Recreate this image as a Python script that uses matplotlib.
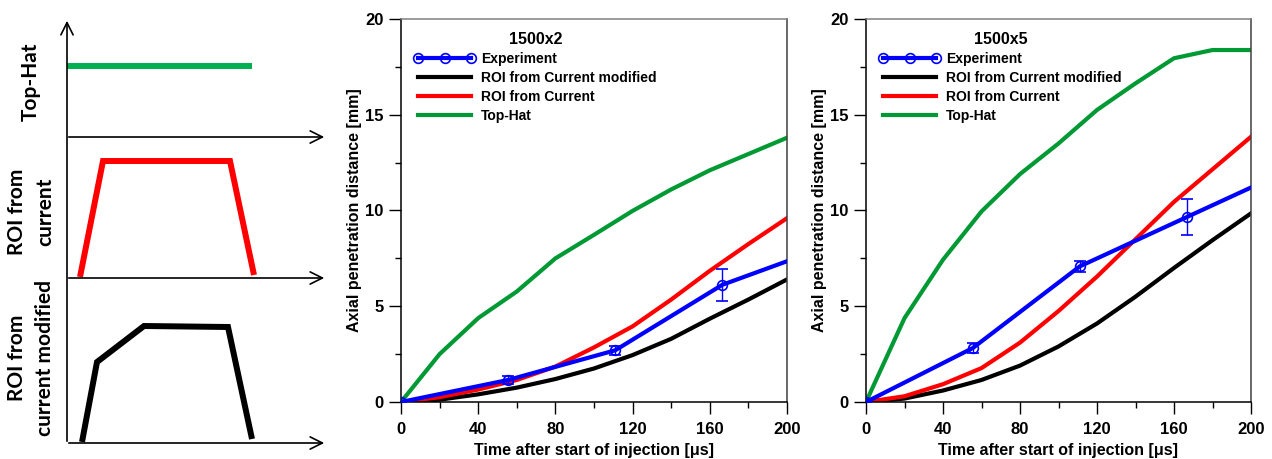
import matplotlib
matplotlib.use("Agg")
import matplotlib.pyplot as plt
from matplotlib.lines import Line2D

plt.rcParams['font.family'] = ['Liberation Sans', 'DejaVu Sans']
plt.rcParams['font.weight'] = 'bold'

# ---- data ----
t_sim = [0, 20, 40, 60, 80, 100, 120, 140, 160, 180, 200]

# 1500x2
tophat_2 = [0, 2.5, 4.38, 5.77, 7.5, 8.73, 9.98, 11.1, 12.1, 12.95, 13.8]
roi_2 = [0, 0.25, 0.65, 1.15, 1.85, 2.85, 3.95, 5.35, 6.85, 8.25, 9.6]
roimod_2 = [0, 0.12, 0.4, 0.75, 1.2, 1.75, 2.45, 3.3, 4.35, 5.35, 6.4]
t_exp = [0, 55.5, 111, 166.5]
exp_2 = [0, 1.15, 2.7, 6.12]
err_2 = [0, 0.23, 0.22, 0.82]
exp_end_2 = 7.35

# 1500x5
tophat_5 = [0, 4.38, 7.43, 9.95, 11.9, 13.5, 15.25, 16.64, 17.95, 18.38, 18.38]
roi_5 = [0, 0.3, 0.93, 1.77, 3.1, 4.75, 6.55, 8.5, 10.45, 12.15, 13.85]
roimod_5 = [0, 0.18, 0.6, 1.15, 1.9, 2.9, 4.1, 5.5, 7.0, 8.45, 9.85]
exp_5 = [0, 2.82, 7.08, 9.65]
err_5 = [0, 0.25, 0.3, 0.94]
exp_end_5 = 11.2

# schematic profiles (x from origin, height above baseline)
tophat_x, tophat_h = [0, 185], [71, 71]
roi_x, roi_h = [13, 36, 163, 187], [1, 117, 117, 3]
roimod_x, roimod_h = [15, 30, 77, 161, 185], [1, 81, 117, 116, 4]

BLUE = '#0000FF'
GREEN = '#009933'
RED = '#FF0000'

fig = plt.figure(figsize=(12.72, 4.59), dpi=100)
W, H = 1272, 459

# ---- schematic ----
ax0 = fig.add_axes([0, 0, 340 / W, 1])
ax0.set_xlim(0, 340)
ax0.set_ylim(459, 0)
ax0.axis('off')
x0 = 67
baselines = [137, 278, 443]
arrow = dict(arrowstyle='->', color='black', lw=1.2, mutation_scale=22)
ax0.annotate('', xy=(x0, 18), xytext=(x0, 444), arrowprops=arrow)
for b in baselines:
    ax0.annotate('', xy=(327, b), xytext=(x0 - 1, b), arrowprops=arrow)
profiles = [(tophat_x, tophat_h, '#00B050'), (roi_x, roi_h, RED), (roimod_x, roimod_h, 'black')]
for (px, ph, c), b in zip(profiles, baselines):
    ax0.plot([x0 + v for v in px], [b - v for v in ph], color=c, lw=4.3,
             solid_joinstyle='miter', solid_capstyle='butt')
labels = ['Top-Hat', 'ROI from\ncurrent', 'ROI from\ncurrent modified']
label_y = [82, 212, 358]
for s, y in zip(labels, label_y):
    ax0.text(31, y, s, rotation=90, ha='center', va='center', fontsize=15,
             fontweight='bold', family=['Lato', 'DejaVu Sans'], linespacing=1.5)


def panel(rect, title, tophat, roi, roimod, exp, err, exp_end):
    ax = fig.add_axes(rect)
    ax.plot(t_exp + [200], exp + [exp_end], color=BLUE, lw=3, zorder=4)
    ax.errorbar(t_exp, exp, yerr=err, fmt='o', color=BLUE, mfc='none', ms=7,
                mew=1.2, elinewidth=1, capsize=4.5, capthick=1, zorder=5)
    ax.plot(t_sim, roimod, color='black', lw=3)
    ax.plot(t_sim, roi, color=RED, lw=3)
    ax.plot(t_sim, tophat, color=GREEN, lw=3)
    ax.set_xlim(0, 200)
    ax.set_ylim(0, 20)
    ax.set_xticks(range(0, 201, 40))
    ax.set_xticks(range(20, 201, 40), minor=True)
    ax.set_yticks(range(0, 21, 5))
    ax.set_yticks([2.5, 7.5, 12.5, 17.5], minor=True)
    ax.tick_params(which='major', direction='out', length=8.5, width=1,
                   labelsize=12, pad=4)
    ax.tick_params(which='minor', direction='out', length=4.3, width=1)
    ax.tick_params(axis='x', which='major', pad=6)
    for lab in ax.get_xticklabels() + ax.get_yticklabels():
        lab.set_fontweight('bold')
    ax.spines['top'].set_color('#808080')
    ax.spines['right'].set_color('#404040')
    for sp in ax.spines.values():
        sp.set_linewidth(1.1)
    ax.set_xlabel('Time after start of injection [μs]', fontsize=11.5,
                  fontweight='bold', labelpad=4)
    ax.set_ylabel('Axial penetration distance [mm]', fontsize=11.5,
                  fontweight='bold', labelpad=2)
    handles = [
        Line2D([], [], color=BLUE, lw=3, marker='o', mfc='none', ms=7, mew=1.2),
        Line2D([], [], color='black', lw=3),
        Line2D([], [], color=RED, lw=3),
        Line2D([], [], color=GREEN, lw=3),
    ]
    names = ['Experiment', 'ROI from Current modified', 'ROI from Current', 'Top-Hat']
    ax.legend(handles, names, title=title, loc='upper left',
              bbox_to_anchor=(0.0, 1.0), frameon=False, numpoints=3,
              handlelength=4.4, handletextpad=0.42, labelspacing=0.36,
              borderpad=0.75, borderaxespad=0.2,
              prop={'size': 10, 'weight': 'bold'},
              title_fontproperties={'size': 11.5, 'weight': 'bold'})
    return ax


panel([401 / W, 57 / H, 386 / W, 383 / H], '1500x2', tophat_2, roi_2, roimod_2,
      exp_2, err_2, exp_end_2)
panel([866 / W, 57 / H, 385 / W, 383 / H], '1500x5', tophat_5, roi_5, roimod_5,
      exp_5, err_5, exp_end_5)

fig.savefig('out.png', dpi=100)
